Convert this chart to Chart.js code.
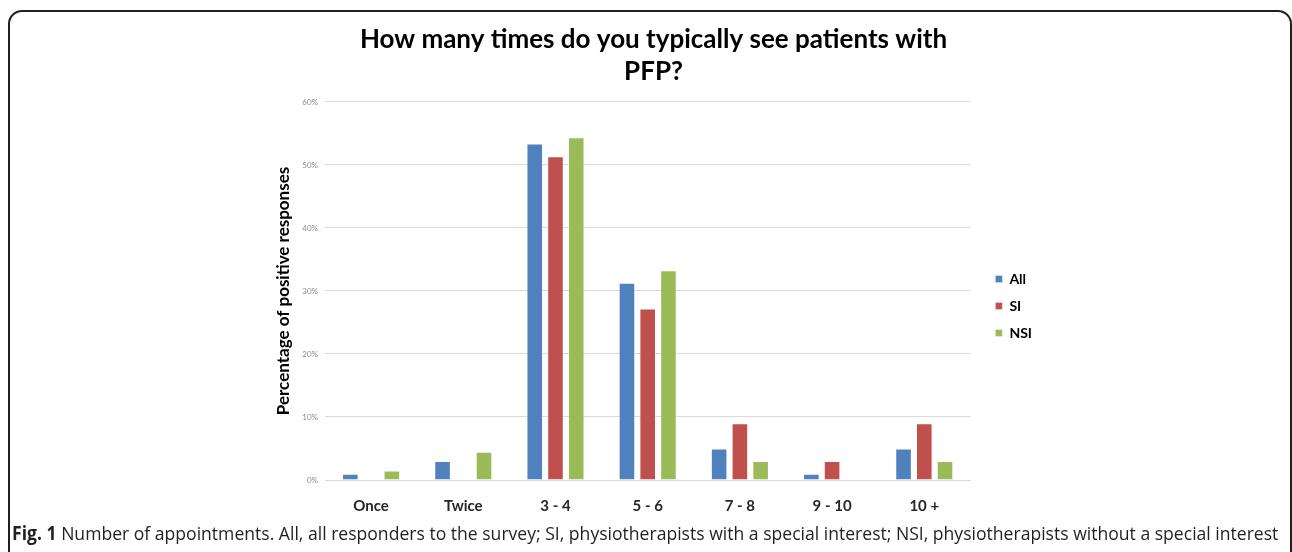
<!DOCTYPE html>
<html>
<head>
<meta charset="utf-8">
<script src="https://cdn.jsdelivr.net/npm/chart.js@4"></script>
<style>
  html, body { margin: 0; padding: 0; background: #fff; overflow: hidden; }
  body { width: 1292px; height: 552px; position: relative; }
  .frame {
    position: absolute; left: 8px; top: 10px; width: 1284px; height: 620px;
    box-sizing: border-box; border: 2px solid #231f20; border-radius: 14px;
  }
  .plot { position: absolute; left: 0; top: 0; width: 1292px; height: 536px; }
  .caption {
    position: absolute; left: 12px; top: 520px; white-space: nowrap;
    font-family: "Open Sans", sans-serif; font-size: 19px; color: #231f20;
    transform-origin: 0 0;
  }
  .caption b { font-weight: 700; }
</style>
</head>
<body>
<div class="frame"></div>
<div class="plot"><canvas id="chart"></canvas></div>
<div class="caption" id="caption"><b>Fig. 1</b> Number of appointments. All, all responders to the survey; SI, physiotherapists with a special interest; NSI, physiotherapists without a special interest</div>
<script>
const categories = ["Once", "Twice", "3 - 4", "5 - 6", "7 - 8", "9 - 10", "10 +"];
const allValues = [1, 3, 53.4, 31.3, 5, 1, 5];
const siValues = [0, 0, 51.4, 27.2, 9, 3, 9];
const nsiValues = [1.5, 4.5, 54.4, 33.3, 3, 0, 3];
const yTicks = [0, 10, 20, 30, 40, 50, 60];

const BLUE = "#4f81bd",
  RED = "#c0504d",
  GREEN = "#9bbb59";
const FONT = "Lato";

// squeeze caption to the width of the figure
const cap = document.getElementById("caption");
cap.style.transform = "scaleX(" + 1266 / cap.scrollWidth + ")";

function series(label, data, color) {
  return {
    label: label,
    data: data,
    backgroundColor: color,
    borderColor: "rgba(255,255,255,0.35)",
    borderWidth: 1,
    categoryPercentage: 0.675,
    barPercentage: 0.8,
  };
}

new Chart(document.getElementById("chart"), {
  type: "bar",
  data: {
    labels: categories,
    datasets: [
      series("All", allValues, BLUE),
      series("SI", siValues, RED),
      series("NSI", nsiValues, GREEN),
    ],
  },
  options: {
    responsive: true,
    maintainAspectRatio: false,
    animation: false,
    layout: { padding: { left: 265, right: 250, top: 0, bottom: 4 } },
    scales: {
      x: {
        grid: { display: false, drawTicks: false },
        border: { display: true, color: "#d9d9d9", width: 1 },
        ticks: {
          padding: 17,
          color: "#262626",
          font: { family: FONT, size: 15, weight: "bold" },
        },
      },
      y: {
        min: 0,
        max: 60,
        afterBuildTicks: (axis) => {
          axis.ticks = yTicks.map((v) => ({ value: v }));
        },
        afterFit: (axis) => {
          axis.width = 60;
        },
        grid: { color: "#d9d9d9", drawTicks: false },
        border: { display: false },
        ticks: {
          padding: 7,
          color: "#8c8c8c",
          font: { family: FONT, size: 8 },
          callback: (v) => v + "%",
        },
        title: {
          display: true,
          text: "Percentage of positive responses",
          color: "#000",
          padding: { top: 8, bottom: 4 },
          font: { family: FONT, size: 17, weight: "bold" },
        },
      },
      gap: {
        type: "linear",
        position: "right",
        display: true,
        grid: { display: false },
        border: { display: false },
        ticks: { display: false },
        afterFit: (axis) => {
          axis.width = 12;
        },
      },
    },
    plugins: {
      title: {
        display: true,
        text: ["How many times do you typically see patients with", "PFP?"],
        color: "#000",
        padding: { top: 24, bottom: 14 },
        font: { family: FONT, size: 26, weight: "bold", lineHeight: 1.23 },
      },
      legend: {
        position: "right",
        title: {
          display: true,
          text: " ",
          padding: { top: 68, bottom: 0 },
          font: { size: 10 },
        },
        labels: {
          boxWidth: 7,
          boxHeight: 7,
          padding: 13,
          color: "#000",
          font: { family: FONT, size: 14, weight: "bold" },
        },
      },
      tooltip: { enabled: false },
    },
  },
});
</script>
</body>
</html>
